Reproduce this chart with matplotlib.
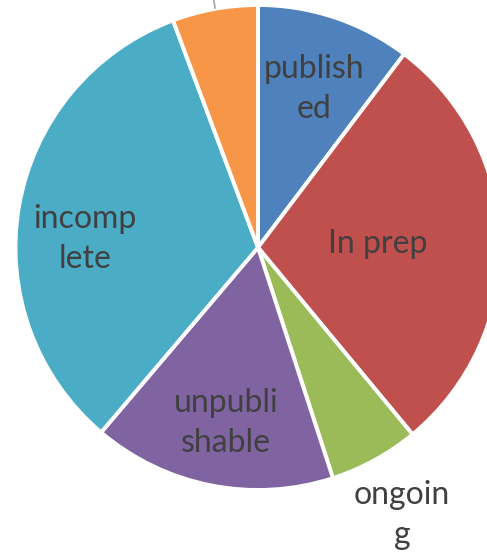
import matplotlib.pyplot as plt

# slice data (clockwise from 12 o'clock)
labels = ['publish\ned', 'In prep', 'ongoin\ng', 'unpubli\nshable', 'incomp\nlete', '']
values = [10.3, 28.7, 6.0, 16.2, 33.1, 5.7]
colors = ['#4F81BD', '#C0504D', '#9BBB59', '#8064A2', '#4BACC6', '#F79646']

# label centres in pixels of the original picture
label_px = [(314, 89), (378, 244), (402, 515), (226, 423), (85, 239), None]

W, H = 487, 555
cx, cy, r = 258, 247.5, 242.5


def to_data(px, py):
    return (px - cx) / r, (cy - py) / r


fig = plt.figure(figsize=(W / 100, H / 100), dpi=100)
ax = fig.add_axes([0, 0, 1, 1])

ax.pie(values, colors=colors, startangle=90, counterclock=False, radius=1,
       wedgeprops=dict(edgecolor='white', linewidth=2.8))

for lab, pos in zip(labels, label_px):
    if pos is None or not lab:
        continue
    x, y = to_data(*pos)
    ax.text(x, y, lab, ha='center', va='center', fontsize=23, color='#404040',
            family='Lato', linespacing=1.38)

# leader line of the cut-off label above
x0, y0 = to_data(215, 8)
x1, y1 = to_data(213, -5)
ax.plot([x0, x1], [y0, y1], color='#A6A6A6', lw=1.2, clip_on=False)

ax.set_aspect('auto')
ax.set_xlim(-cx / r, (W - cx) / r)
ax.set_ylim((cy - H) / r, cy / r)
ax.axis('off')

fig.savefig('out.png', dpi=100)
